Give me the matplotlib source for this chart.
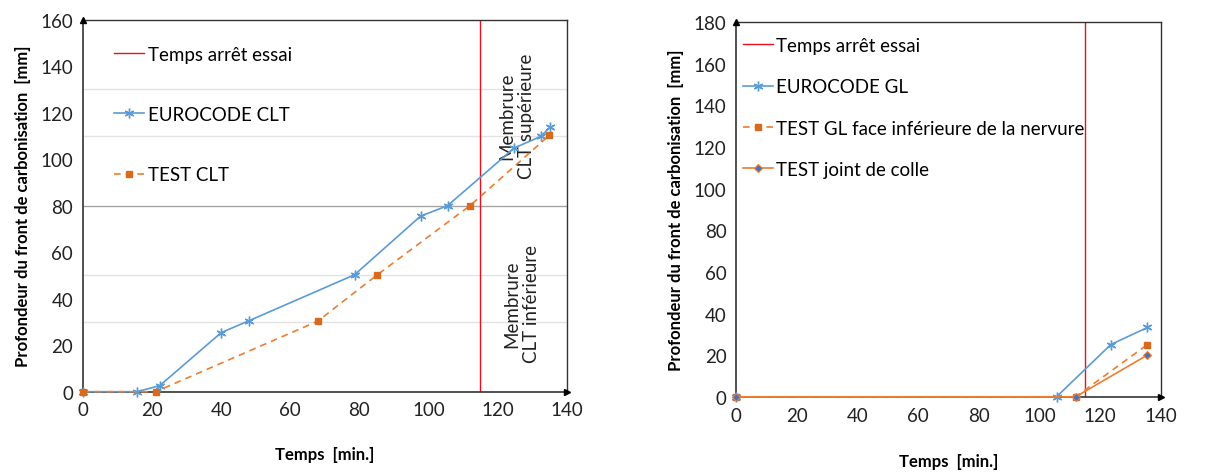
import matplotlib.pyplot as plt
import numpy as np

plt.rcParams['font.family'] = ['Lato', 'DejaVu Sans']

# Left chart: CLT
t_euro_clt = [0, 15.6, 22.2, 40, 48, 78.6, 97.7, 105.5, 124.8, 132.5, 135.2]
d_euro_clt = [0, 0, 2.6, 25.4, 30.5, 50.3, 75.5, 80, 104.8, 109.8, 113.8]
t_test_clt = [0, 21, 67.9, 85.1, 112, 135]
d_test_clt = [0, 0, 30.3, 50.2, 80, 110.3]
grid_clt = [30, 50, 110, 130]
grid_clt_dark = 80

# Right chart: GL
t_euro_gl = [0, 105.6, 123.5, 135.6]
d_euro_gl = [0, 0, 25.1, 33.3]
t_test_gl = [0, 111.9, 135.5]
d_test_gl = [0, 0, 25]
t_joint = [0, 111.9, 135.5]
d_joint = [0, 0, 20]

t_stop = 115

BLUE = '#5B9BD5'
ORANGE = '#ED7D31'
ORANGE_DK = '#D86A1E'
DIAM = '#4472C4'
RED = '#E8101A'
STAR = (6, 2, 0)


def style_axes(ax, ymax, xpad):
    ax.set_xlim(0, 140)
    ax.set_ylim(0, ymax)
    ax.set_xticks(np.arange(0, 141, 20))
    ax.set_yticks(np.arange(0, ymax + 1, 20))
    ax.tick_params(length=0, labelsize=13.5, colors='#222222', pad=7)
    for s in ['top', 'right']:
        ax.spines[s].set_color('#333333')
        ax.spines[s].set_linewidth(1.0)
    for s in ['left', 'bottom']:
        ax.spines[s].set_color('#333333')
        ax.spines[s].set_linewidth(1.2)
    ax.plot([0], [1], marker='^', color='black', markersize=4,
            transform=ax.transAxes, clip_on=False, zorder=10)
    ax.plot([1], [0], marker='>', color='black', markersize=4,
            transform=ax.transAxes, clip_on=False, zorder=10)
    ax.set_xlabel('Temps  [min.]', fontsize=12, fontweight='bold', labelpad=xpad)
    ax.set_ylabel('Profondeur du front de carbonisation  [mm]', fontsize=12,
                  fontweight='bold', labelpad=7)


def main():
    fig = plt.figure(figsize=(12.13, 4.77), dpi=100)

    # Left chart
    ax1 = fig.add_axes([0.0684, 0.1767, 0.3988, 0.780])
    for g in grid_clt:
        ax1.axhline(g, color='#E3E3E3', lw=1.0, zorder=0)
    ax1.axhline(grid_clt_dark, color='#A6A6A6', lw=1.0, zorder=0)
    ax1.axvline(t_stop, color=RED, lw=1.0, label='Temps arrêt essai')
    ax1.plot(t_euro_clt, d_euro_clt, '-', color=BLUE, lw=1.2, marker=STAR,
             markersize=7, mec=BLUE, label='EUROCODE CLT', clip_on=False,
             zorder=11)
    ax1.plot(t_test_clt, d_test_clt, '--', color=ORANGE, lw=1.2, marker='s',
             markersize=4.5, mfc=ORANGE_DK, mec=ORANGE_DK, dashes=(4, 3),
             label='TEST CLT', clip_on=False, zorder=12)
    style_axes(ax1, 160, 20)
    ax1.text(125.5, 119, 'Membrure\nCLT supérieure', rotation=90, ha='center',
             va='center', fontsize=13.5, color='#222222', multialignment='center')
    ax1.text(127, 38, 'Membrure\nCLT inférieure', rotation=90, ha='center',
             va='center', fontsize=13.5, color='#222222', multialignment='center')
    ax1.legend(loc='upper left', bbox_to_anchor=(0.03, 0.975), frameon=False,
               fontsize=13.5, labelspacing=2.3, handlelength=1.6,
               handletextpad=0.2)

    # Right chart
    ax2 = fig.add_axes([0.607, 0.166, 0.350, 0.786])
    ax2.axvline(t_stop, color=RED, lw=1.0, label='Temps arrêt essai')
    ax2.plot(t_euro_gl, d_euro_gl, '-', color=BLUE, lw=1.2, marker=STAR,
             markersize=7, mec=BLUE, label='EUROCODE GL', clip_on=False,
             zorder=11)
    ax2.plot(t_test_gl, d_test_gl, '--', color=ORANGE, lw=1.2, marker='s',
             markersize=4.5, mfc=ORANGE_DK, mec=ORANGE_DK, dashes=(4, 3),
             label='TEST GL face inférieure de la nervure', clip_on=False,
             zorder=12)
    ax2.plot(t_joint, d_joint, '-', color=ORANGE, lw=1.2, marker='D',
             markersize=4, mfc=DIAM, mec=ORANGE, mew=0.8,
             label='TEST joint de colle', clip_on=False, zorder=13)
    style_axes(ax2, 180, 21)
    ax2.legend(loc='upper left', bbox_to_anchor=(-0.025, 1.005), frameon=False,
               fontsize=13.5, labelspacing=1.3, handlelength=1.6,
               handletextpad=0.2)

    fig.savefig('out.png', dpi=100)


if __name__ == "__main__":
    main()
